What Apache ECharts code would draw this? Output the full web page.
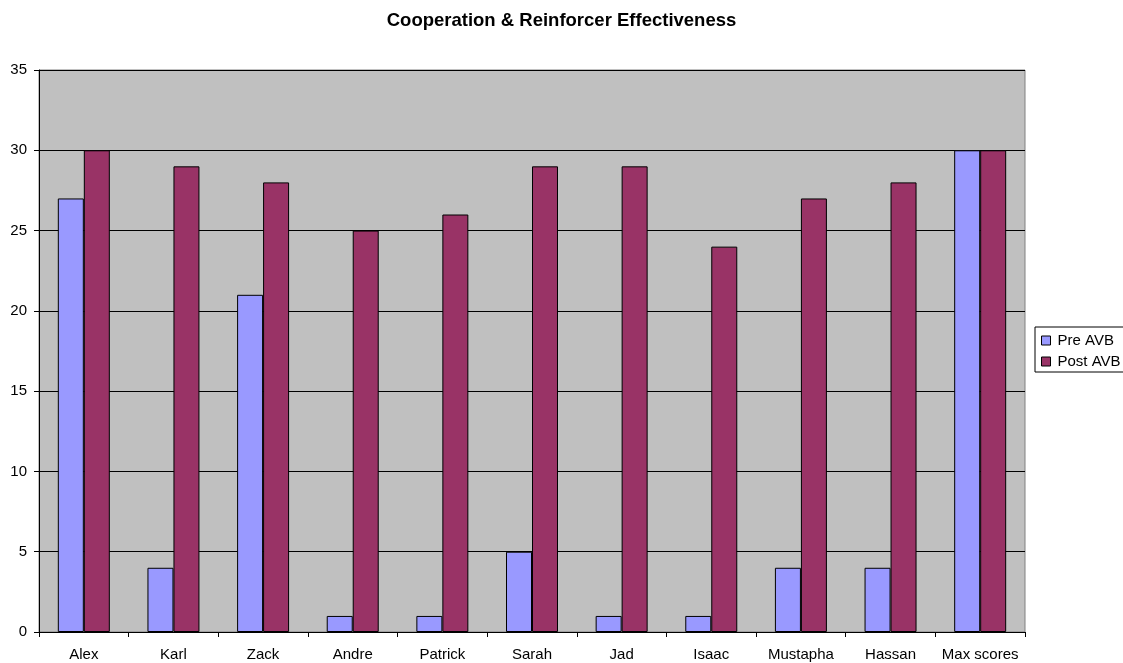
<!DOCTYPE html>
<html>
<head>
<meta charset="utf-8">
<script src="https://cdn.jsdelivr.net/npm/echarts@6/dist/echarts.min.js"></script>
<style>
  html, body { margin: 0; padding: 0; background: #ffffff; }
  #chart { width: 1123px; height: 663px; }
</style>
</head>
<body>
<div id="chart"></div>
<script>
// Students and their cooperation scores before and after the intervention
const students = ['Alex', 'Karl', 'Zack', 'Andre', 'Patrick', 'Sarah', 'Jad', 'Isaac', 'Mustapha', 'Hassan', 'Max scores'];
const preAVB  = [27, 4, 21, 1, 1, 5, 1, 1, 4, 4, 30];
const postAVB = [30, 29, 28, 25, 26, 29, 29, 24, 27, 28, 30];

const chart = echarts.init(document.getElementById('chart'), null, { renderer: 'canvas' });
const font = 'Liberation Sans, Arial, sans-serif';

chart.setOption({
  animation: false,
  backgroundColor: '#ffffff',
  title: {
    text: 'Cooperation & Reinforcer Effectiveness',
    left: 'center',
    top: 6,
    textStyle: { fontFamily: font, fontSize: 18.5, fontWeight: 'bold', color: '#000' }
  },
  legend: {
    orient: 'vertical',
    left: 1035,
    top: 327,
    itemWidth: 9,
    itemHeight: 9,
    itemGap: 6,
    padding: [6, 20, 3, 6],
    borderColor: '#000',
    borderWidth: 1,
    backgroundColor: '#fff',
    icon: 'rect',
    itemStyle: { borderColor: '#000', borderWidth: 1 },
    textStyle: { fontFamily: font, fontSize: 15, color: '#000', padding: [0, 0, 0, 2] },
    data: ['Pre AVB', 'Post AVB']
  },
  grid: {
    left: 39,
    right: 98,
    top: 70,
    bottom: 31,
    show: true,
    backgroundColor: '#c0c0c0',
    borderColor: '#808080',
    borderWidth: 1
  },
  xAxis: {
    type: 'category',
    data: students,
    axisLine: { lineStyle: { color: '#000' } },
    axisTick: { show: true, interval: 0, length: 5, lineStyle: { color: '#000' } },
    axisLabel: { interval: 0, fontFamily: font, fontSize: 15, color: '#000', margin: 15 }
  },
  yAxis: {
    type: 'value',
    min: 0,
    max: 35,
    interval: 5,
    axisLine: { show: true, lineStyle: { color: '#000' } },
    axisTick: { show: true, length: 5, lineStyle: { color: '#000' } },
    axisLabel: { fontFamily: font, fontSize: 15, color: '#000', margin: 12 },
    splitLine: { lineStyle: { color: '#000', width: 1 } }
  },
  series: [
    {
      name: 'Pre AVB',
      type: 'bar',
      data: preAVB,
      barGap: '0%',
      barCategoryGap: '42%',
      itemStyle: { color: '#9999ff', borderColor: '#000', borderWidth: 1 }
    },
    {
      name: 'Post AVB',
      type: 'bar',
      data: postAVB,
      itemStyle: { color: '#993366', borderColor: '#000', borderWidth: 1 }
    }
  ]
});
</script>
</body>
</html>
